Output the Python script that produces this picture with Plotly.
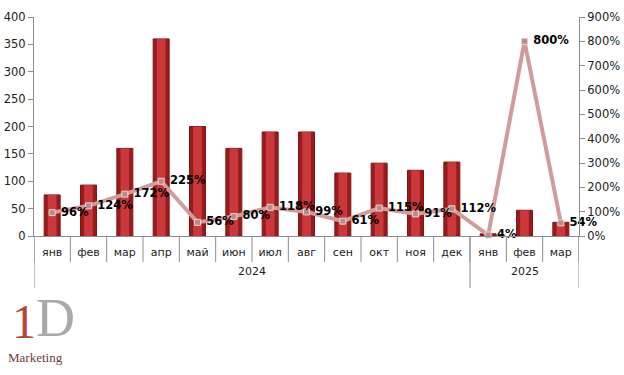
import plotly.graph_objects as go

years = ["2024", "2025"]
year_months = [12, 3]
months = ["янв", "фев", "мар", "апр", "май", "июн", "июл", "авг", "сен", "окт", "ноя", "дек",
          "янв", "фев", "мар"]
volumes = [75, 93, 160, 360, 200, 160, 190, 190, 115, 133, 120, 135, 4, 47, 25]
growth = [0.96, 1.24, 1.72, 2.25, 0.56, 0.80, 1.18, 0.99, 0.61, 1.15, 0.91, 1.12, 0.04, 8.00, 0.54]
growth_labels = ["96%", "124%", "172%", "225%", "56%", "80%", "118%", "99%", "61%", "115%",
                 "91%", "112%", "4%", "800%", "54%"]
left_ticks = [0, 50, 100, 150, 200, 250, 300, 350, 400]
right_ticks = [0, 1, 2, 3, 4, 5, 6, 7, 8, 9]

font = "DejaVu Sans"
W, H = 624, 375
L, R, T, B = 34, 45, 17, 139
PH = H - T - B
PW = W - L - R
xs = list(range(len(months)))
axis_col = "#8c8c8c"


def py(pix):  # pixel y -> paper y
    return (H - B - pix) / PH


def px(pix):  # pixel x -> paper x
    return (pix - L) / PW


fig = go.Figure()
fig.add_trace(go.Bar(
    x=xs, y=volumes, width=0.44,
    marker=dict(color="#981c1d", line=dict(color="#7e1515", width=1)),
    showlegend=False, hoverinfo="skip",
))
fig.add_trace(go.Bar(
    x=xs, y=volumes, width=0.24,
    marker=dict(color="#c9383a", line=dict(width=0)),
    showlegend=False, hoverinfo="skip",
))
fig.add_trace(go.Scatter(
    x=xs, y=growth, yaxis="y2", mode="lines+markers+text",
    line=dict(color="#d29b9b", width=4),
    marker=dict(symbol="square", size=6, color="#b98b8b", line=dict(color="#ecd2d2", width=1)),
    text=growth_labels, texttemplate=" %{text}", textposition="middle right",
    textfont=dict(family=font, size=11.5, color="#000000", weight="bold"),
    showlegend=False, hoverinfo="skip", cliponaxis=False,
))

fig.update_layout(
    width=W, height=H,
    margin=dict(l=L, r=R, t=T, b=B, autoexpand=False),
    paper_bgcolor="white", plot_bgcolor="white",
    font=dict(family=font, size=11, color="#222222"),
    barmode="overlay",
    xaxis=dict(
        range=[-0.5, len(months) - 0.5], tickvals=xs, ticktext=months, ticks="",
        showline=True, linecolor=axis_col, linewidth=1, showgrid=False, zeroline=False,
        tickfont=dict(size=11, color="#222222"), automargin=False, ticklabelstandoff=6,
    ),
    yaxis=dict(
        range=[0, 400], tickvals=left_ticks, showgrid=False, zeroline=False,
        showline=True, linecolor=axis_col, ticks="outside", tickcolor=axis_col, ticklen=5,
        tickfont=dict(size=11.5, color="#222222"), automargin=False,
    ),
    yaxis2=dict(
        range=[0, 9], tickvals=right_ticks, tickformat=".0%", overlaying="y", side="right",
        showgrid=False, zeroline=False, showline=True, linecolor=axis_col,
        ticks="outside", tickcolor=axis_col, ticklen=5,
        tickfont=dict(size=11.5, color="#222222"), automargin=False,
    ),
)

# category dividers
shapes = []
for i in range(len(months) + 1):
    shapes.append(dict(type="line", xref="x", yref="paper", x0=i - 0.5, x1=i - 0.5,
                       y0=0, y1=py(262), line=dict(color=axis_col, width=1)))
start = 0
bounds = [0]
for n in year_months:
    start += n
    bounds.append(start)
for b in bounds:
    shapes.append(dict(type="line", xref="x", yref="paper", x0=b - 0.5, x1=b - 0.5,
                       y0=0, y1=py(288), line=dict(color=axis_col, width=1)))
fig.update_layout(shapes=shapes)

for yr, a, b in zip(years, bounds[:-1], bounds[1:]):
    fig.add_annotation(xref="x", yref="paper", x=(a + b - 1) / 2, y=py(280), text=yr,
                       showarrow=False, font=dict(size=11, color="#222222"))

# logo
fig.add_annotation(xref="paper", yref="paper", x=px(10), y=py(350), xanchor="left", yanchor="bottom",
                   text="1", showarrow=False,
                   font=dict(family="Liberation Serif", size=48, color="#b5443a"))
fig.add_annotation(xref="paper", yref="paper", x=px(34), y=py(350), xanchor="left", yanchor="bottom",
                   text="D", showarrow=False,
                   font=dict(family="Liberation Serif", size=54, color="#a9a9a9"))
fig.add_annotation(xref="paper", yref="paper", x=px(6), y=py(357), xanchor="left", yanchor="middle",
                   text="Marketing", showarrow=False,
                   font=dict(family="Liberation Serif", size=13, color="#6e3b3b"))

fig.write_html("out.html", config={"displayModeBar": False},
               post_script="document.body.style.margin='0';")
